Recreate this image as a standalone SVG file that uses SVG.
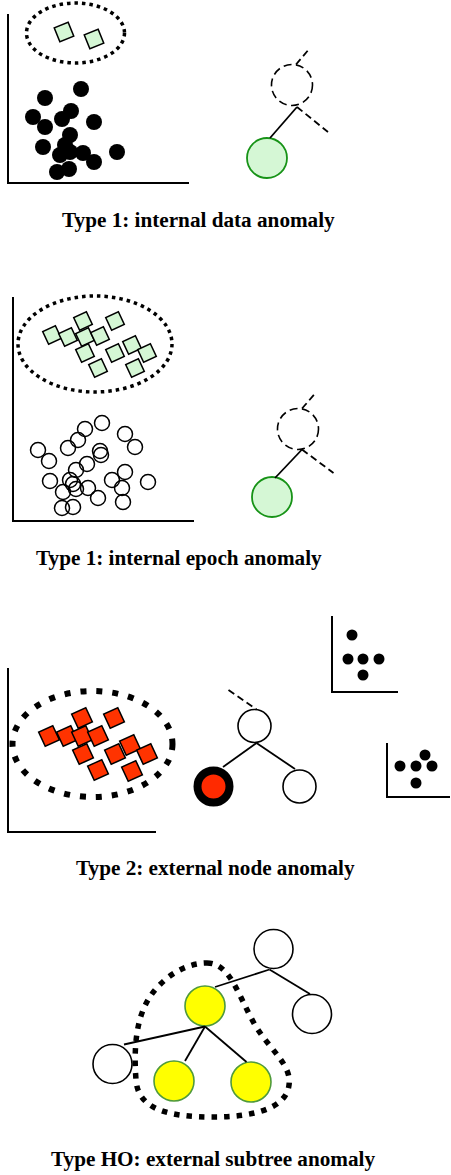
<svg xmlns="http://www.w3.org/2000/svg" width="451" height="1175" viewBox="0 0 451 1175">
<style>
.axis{stroke:#000;stroke-width:2;fill:none}
.dots{fill:none;stroke:#000;stroke-width:3.5;stroke-dasharray:3.5 4}
.thick{fill:none;stroke:#000;stroke-width:6;stroke-dasharray:6 10}
.thick4{fill:none;stroke:#000;stroke-width:5.5;stroke-dasharray:5.5 7}
.gd{fill:#d5f7d5;stroke:#000;stroke-width:1.5}
.rd{fill:#ff3300;stroke:#000;stroke-width:1.5}
.bc{fill:#000}
.oc{fill:none;stroke:#000;stroke-width:1.5}
.edge{stroke:#000;stroke-width:1.8;fill:none}
.dash{stroke:#000;stroke-width:1.8;fill:none;stroke-dasharray:7 4}
.dcirc{fill:none;stroke:#000;stroke-width:1.6;stroke-dasharray:8 4.5}
.green{fill:#d5f7d5;stroke:#179317;stroke-width:1.8}
.wn{fill:#fff;stroke:#000;stroke-width:1.6}
.yn{fill:#ffff00;stroke:#4f9a3c;stroke-width:1.6}
.lbl{font-family:"Liberation Serif","Times New Roman",serif;font-weight:bold;font-size:21.2px;fill:#000}
</style>
<defs>
<rect id="sq1" x="-7.5" y="-7.5" width="15" height="15" transform="rotate(-22)"/>
<rect id="sq2" x="-7" y="-7" width="14" height="14" transform="rotate(-25)"/>
<rect id="sq3" x="-7.8" y="-7.8" width="15.6" height="15.6" transform="rotate(-25)"/>
</defs>

<!-- Panel 1 -->
<g id="panel1">
<path class="axis" d="M8,14 V183 H189"/>
<ellipse class="dots" cx="75.5" cy="33" rx="49" ry="30"/>
<use href="#sq1" class="gd" transform="translate(64,32)"/>
<use href="#sq1" class="gd" transform="translate(94,39)"/>
<g class="bc">
<circle cx="81" cy="89" r="8"/><circle cx="45" cy="98" r="8"/><circle cx="33" cy="117" r="8"/>
<circle cx="71" cy="111" r="8"/><circle cx="62" cy="119" r="8"/><circle cx="45" cy="127" r="8"/>
<circle cx="94" cy="122" r="8"/><circle cx="70" cy="135" r="8"/><circle cx="43" cy="147" r="8"/>
<circle cx="65" cy="145" r="8"/><circle cx="60" cy="155" r="8"/><circle cx="70" cy="152" r="8"/>
<circle cx="83" cy="153" r="8"/><circle cx="94" cy="162" r="8"/><circle cx="117" cy="152" r="8"/>
<circle cx="57" cy="172" r="8"/><circle cx="69" cy="169" r="8"/>
</g>
</g>
<g id="p1-parent"><circle class="dcirc" cx="292" cy="85" r="20.5"/></g>
<g id="p1-node"><circle class="green" cx="267" cy="158" r="20"/></g>
<text class="lbl" x="62" y="227">Type 1: internal data anomaly</text>

<!-- Panel 2 -->
<g id="panel2">
<path class="axis" d="M13,297 V521 H194"/>
<ellipse class="dots" cx="95" cy="344" rx="77" ry="48"/>
<g class="gd">
<use href="#sq2" transform="translate(52,335)"/><use href="#sq2" transform="translate(68,337)"/>
<use href="#sq2" transform="translate(83,321)"/><use href="#sq2" transform="translate(85,337)"/>
<use href="#sq2" transform="translate(100,336)"/><use href="#sq2" transform="translate(115,321)"/>
<use href="#sq2" transform="translate(85,353)"/><use href="#sq2" transform="translate(115,353)"/>
<use href="#sq2" transform="translate(132,345)"/><use href="#sq2" transform="translate(147,353)"/>
<use href="#sq2" transform="translate(98,368)"/><use href="#sq2" transform="translate(135,368)"/>
</g>
<g class="oc">
<circle cx="102" cy="423" r="7.5"/><circle cx="85" cy="429" r="7.5"/><circle cx="78" cy="440" r="7.5"/>
<circle cx="68" cy="448" r="7.5"/><circle cx="125" cy="434" r="7.5"/><circle cx="135" cy="447" r="7.5"/>
<circle cx="38" cy="450" r="7.5"/><circle cx="49" cy="461" r="7.5"/><circle cx="100" cy="451" r="7.5"/>
<circle cx="101" cy="455" r="7.5"/><circle cx="87" cy="464" r="7.5"/><circle cx="76" cy="470" r="7.5"/>
<circle cx="70" cy="480" r="7.5"/><circle cx="73" cy="484" r="7.5"/><circle cx="50" cy="481" r="7.5"/>
<circle cx="63" cy="492" r="7.5"/><circle cx="76" cy="489" r="7.5"/><circle cx="88" cy="488" r="7.5"/>
<circle cx="98" cy="498" r="7.5"/><circle cx="112" cy="480" r="7.5"/><circle cx="125" cy="472" r="7.5"/>
<circle cx="122" cy="488" r="7.5"/><circle cx="123" cy="502" r="7.5"/><circle cx="148" cy="482" r="7.5"/>
<circle cx="62" cy="508" r="7.5"/><circle cx="73" cy="507" r="7.5"/>
</g>
</g>
<g id="p2-parent"><circle class="dcirc" cx="298" cy="429" r="20.5"/></g>
<g id="p2-node"><circle class="green" cx="272" cy="497" r="20"/></g>
<text class="lbl" x="36" y="565">Type 1: internal epoch anomaly</text>

<!-- Panel 3 -->
<g id="panel3">
<path class="axis" d="M8,668 V832 H156"/>
<ellipse class="thick" cx="92.5" cy="744" rx="80" ry="53"/>
<g class="rd">
<use href="#sq3" transform="translate(82,718)"/><use href="#sq3" transform="translate(114,718)"/>
<use href="#sq3" transform="translate(49,736)"/><use href="#sq3" transform="translate(67,736)"/>
<use href="#sq3" transform="translate(82,736)"/><use href="#sq3" transform="translate(98,736)"/>
<use href="#sq3" transform="translate(83,754)"/><use href="#sq3" transform="translate(115,754)"/>
<use href="#sq3" transform="translate(130,745)"/><use href="#sq3" transform="translate(147,754)"/>
<use href="#sq3" transform="translate(98,770)"/><use href="#sq3" transform="translate(132,771)"/>
</g>
</g>
<g id="mini1">
<path class="axis" d="M332,616 V692 H398"/>
<g class="bc">
<circle cx="352" cy="635" r="5.5"/><circle cx="348" cy="659" r="5.5"/><circle cx="363" cy="659" r="5.5"/>
<circle cx="379" cy="659" r="5.5"/><circle cx="363" cy="675" r="5.5"/>
</g>
</g>
<g id="mini2">
<path class="axis" d="M387,743 V797 H450"/>
<g class="bc">
<circle cx="425" cy="755" r="5.5"/><circle cx="400" cy="766" r="5.5"/><circle cx="416" cy="766" r="5.5"/>
<circle cx="432" cy="766" r="5.5"/><circle cx="416" cy="783" r="5.5"/>
</g>
</g>
<g id="p3-parent"><circle class="wn" cx="254.5" cy="726" r="16.5"/></g>
<g id="p3-anomaly"><circle fill="#ff2a00" stroke="#000" stroke-width="8" cx="213.5" cy="786.5" r="16"/></g>
<g id="p3-sibling"><circle class="wn" cx="299.5" cy="786.5" r="16.5"/></g>
<text class="lbl" x="76" y="875">Type 2: external node anomaly</text>

<!-- Panel 4 -->
<g id="p4-root"><circle class="wn" cx="273.5" cy="949" r="19.5"/></g>
<g id="p4-right"><circle class="wn" cx="312" cy="1014" r="19.5"/></g>
<g id="p4-sub"><circle class="yn" cx="205" cy="1006" r="20"/></g>
<g id="p4-left"><circle class="wn" cx="112.5" cy="1064" r="19.5"/></g>
<g id="p4-y1"><circle class="yn" cx="174" cy="1081" r="20"/></g>
<g id="p4-y2"><circle class="yn" cx="251" cy="1082" r="20"/></g>
<path id="p4-blob" class="thick4" d="M207,963 C230,963 238,995 255,1025 C270,1050 292,1065 289,1085 C286,1110 250,1117 213,1117 C170,1117 138,1110 136,1080 C133,1040 138,1010 155,990 C170,972 190,963 207,963 Z"/>
<text class="lbl" x="51" y="1166">Type HO: external subtree anomaly</text>

<g id="connectors">
<line class="dash" x1="296" y1="64.5" x2="310" y2="48"/>
<line class="dash" x1="297" y1="107" x2="328" y2="132"/>
<line class="edge" x1="297" y1="107" x2="270" y2="138"/>
<line class="dash" x1="302" y1="408.5" x2="316" y2="392.5"/>
<line class="dash" x1="302" y1="449.5" x2="333.5" y2="473"/>
<line class="edge" x1="302" y1="449.5" x2="275" y2="478"/>
<line class="dash" x1="228.5" y1="690" x2="256.5" y2="709.5"/>
<line class="edge" x1="256.5" y1="743" x2="223" y2="767"/>
<line class="edge" x1="256.5" y1="743" x2="295" y2="769"/>
<line class="edge" x1="269.5" y1="969.5" x2="215" y2="987"/>
<line class="edge" x1="269.5" y1="969.5" x2="310" y2="994"/>
<line class="edge" x1="205" y1="1026.5" x2="124" y2="1044.5"/>
<line class="edge" x1="205" y1="1026.5" x2="185" y2="1061"/>
<line class="edge" x1="205" y1="1026.5" x2="246.5" y2="1062"/>
</g>
</svg>
